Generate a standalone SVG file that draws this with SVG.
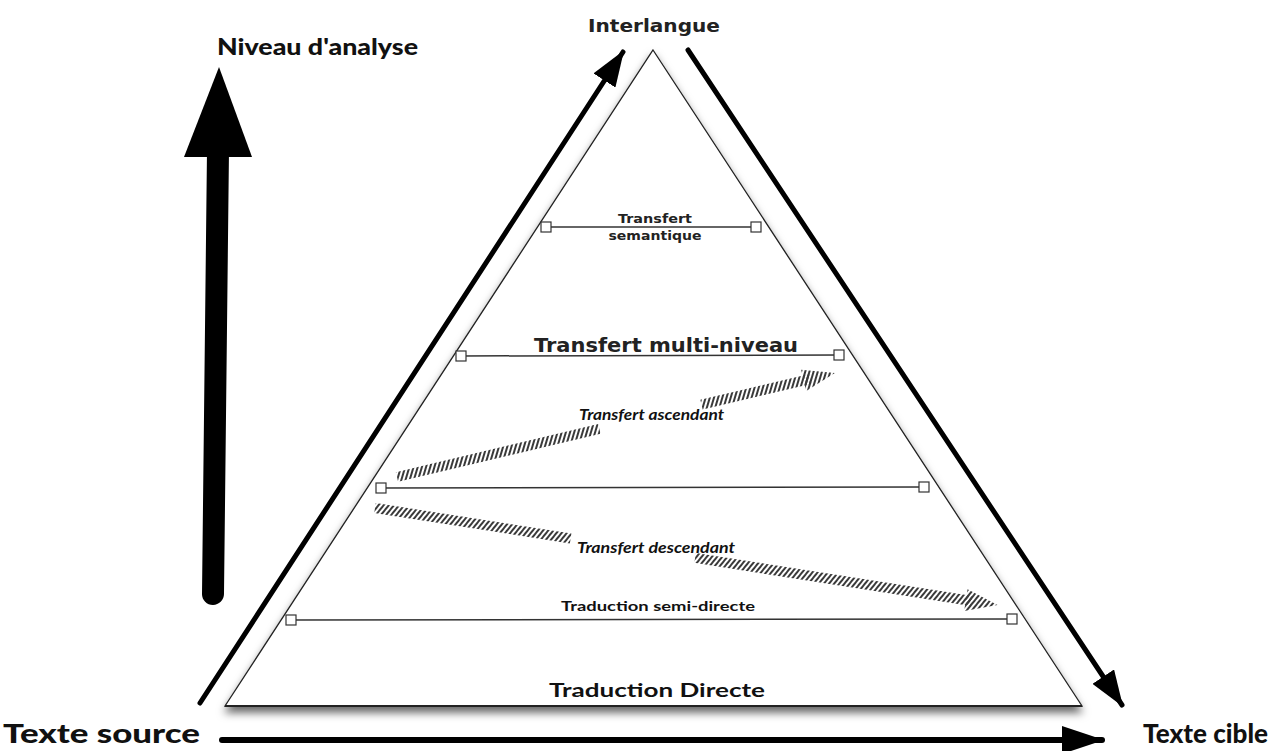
<svg xmlns="http://www.w3.org/2000/svg" width="1274" height="751" viewBox="0 0 1274 751">
<style>
.lvl{stroke:#333;stroke-width:1.5;fill:none}
.box{fill:#fff;stroke:#333;stroke-width:1.2}
.thk{stroke:#000;stroke-width:5;fill:none}
.lg{font-family:"DejaVu Sans",sans-serif;font-weight:bold;fill:#222}
.op{font-family:Lato,"Open Sans",sans-serif;fill:#111}
</style>
<defs>
<filter id="sh" x="-10%" y="-10%" width="120%" height="130%">
<feDropShadow dx="0" dy="6" stdDeviation="4.5" flood-color="#000" flood-opacity="0.6"/>
</filter>
<pattern id="hatch" width="4" height="4" patternUnits="userSpaceOnUse" patternTransform="rotate(30)">
<rect width="2" height="4" fill="#3a3a3a"/>
</pattern>
<marker id="ah" viewBox="0 0 36 26" refX="34" refY="13" markerWidth="36" markerHeight="26" markerUnits="userSpaceOnUse" orient="auto">
<path d="M0,0 L36,13 L0,26 Z" fill="#000"/>
</marker>
<marker id="ah2" viewBox="0 0 42 28" refX="40" refY="14" markerWidth="42" markerHeight="28" markerUnits="userSpaceOnUse" orient="auto">
<path d="M0,0 L42,14 L0,28 Z" fill="#000"/>
</marker>
</defs>
<rect width="1274" height="751" fill="#fff"/>

<g id="pyramid">
<polygon points="653,50 1082,706 225,706" fill="#fff" stroke="#222" stroke-width="1.3" filter="url(#sh)"/>
<line x1="225" y1="706" x2="1082" y2="706" stroke="#222" stroke-width="2"/>
</g>

<g id="connectors">
<line class="thk" x1="200" y1="703" x2="623" y2="52" stroke-linecap="round" marker-end="url(#ah)"/>
<line class="thk" x1="688" y1="50" x2="1122" y2="705" stroke-linecap="round" marker-end="url(#ah)"/>
<line x1="222" y1="740" x2="1102" y2="740" stroke="#000" stroke-width="6" stroke-linecap="round" marker-end="url(#ah2)"/>
</g>

<g id="axis-arrow">
<line x1="218" y1="150" x2="213" y2="594" stroke="#000" stroke-width="22" stroke-linecap="round"/>
<polygon points="219,67 184,157 252,157" fill="#000"/>
<text class="op" x="217" y="55" font-size="22" font-weight="900" textLength="201" lengthAdjust="spacingAndGlyphs">Niveau d'analyse</text>
</g>

<g id="interlangue">
<text class="lg" x="588" y="32" font-size="17" textLength="132" lengthAdjust="spacingAndGlyphs">Interlangue</text>
</g>

<g id="transfert-semantique">
<line class="lvl" x1="546" y1="227" x2="756" y2="227"/>
<rect class="box" x="541" y="222" width="10" height="10"/>
<rect class="box" x="751" y="222" width="10" height="10"/>
<text class="lg" x="655" y="223" font-size="12.5" text-anchor="middle" textLength="74" lengthAdjust="spacingAndGlyphs">Transfert</text>
<text class="lg" x="655" y="240" font-size="12.5" text-anchor="middle" textLength="93" lengthAdjust="spacingAndGlyphs">semantique</text>
</g>

<g id="transfert-multi-niveau">
<line class="lvl" x1="461" y1="356" x2="839" y2="355"/>
<rect class="box" x="456" y="351" width="10" height="10"/>
<rect class="box" x="834" y="350" width="10" height="10"/>
<text class="lg" x="534" y="352" font-size="20" textLength="264" lengthAdjust="spacingAndGlyphs">Transfert multi-niveau</text>
</g>

<g id="niveau-intermediaire">
<line class="lvl" x1="381" y1="488" x2="924" y2="487"/>
<rect class="box" x="376" y="483" width="10" height="10"/>
<rect class="box" x="919" y="482" width="10" height="10"/>
</g>

<g id="traduction-semi-directe">
<line class="lvl" x1="291" y1="620" x2="1012" y2="619"/>
<rect class="box" x="286" y="615" width="10" height="10"/>
<rect class="box" x="1007" y="614" width="10" height="10"/>
<text class="op" x="561" y="611" font-size="14" font-weight="bold" textLength="194" lengthAdjust="spacingAndGlyphs">Traduction semi-directe</text>
</g>

<g id="transfert-ascendant">
<g transform="translate(397,477) rotate(-13.36)">
<rect x="0" y="-5" width="208" height="10" fill="url(#hatch)"/>
<rect x="313" y="-5" width="112" height="10" fill="url(#hatch)"/>
<polygon points="418,-11 450,0 418,11" fill="url(#hatch)"/>
</g>
<text class="op" x="579" y="420" font-size="14.5" font-style="italic" font-weight="bold" textLength="145" lengthAdjust="spacingAndGlyphs">Transfert ascendant</text>
</g>

<g id="transfert-descendant">
<g transform="translate(375,508) rotate(8.86)">
<rect x="0" y="-5" width="198" height="10" fill="url(#hatch)"/>
<rect x="324" y="-5" width="280" height="10" fill="url(#hatch)"/>
<polygon points="598,-11 630,0 598,11" fill="url(#hatch)"/>
</g>
<text class="op" x="577" y="553" font-size="14.5" font-style="italic" font-weight="bold" textLength="158" lengthAdjust="spacingAndGlyphs">Transfert descendant</text>
</g>

<g id="traduction-directe">
<text class="op" x="549" y="697" font-size="18" font-weight="bold" textLength="216" lengthAdjust="spacingAndGlyphs">Traduction Directe</text>
</g>

<g id="texte-source">
<text class="op" x="3" y="743" font-size="27" font-weight="900" textLength="197" lengthAdjust="spacingAndGlyphs">Texte source</text>
</g>

<g id="texte-cible">
<text class="op" x="1143" y="743" font-size="27" font-weight="900" textLength="125" lengthAdjust="spacingAndGlyphs">Texte cible</text>
</g>
</svg>
